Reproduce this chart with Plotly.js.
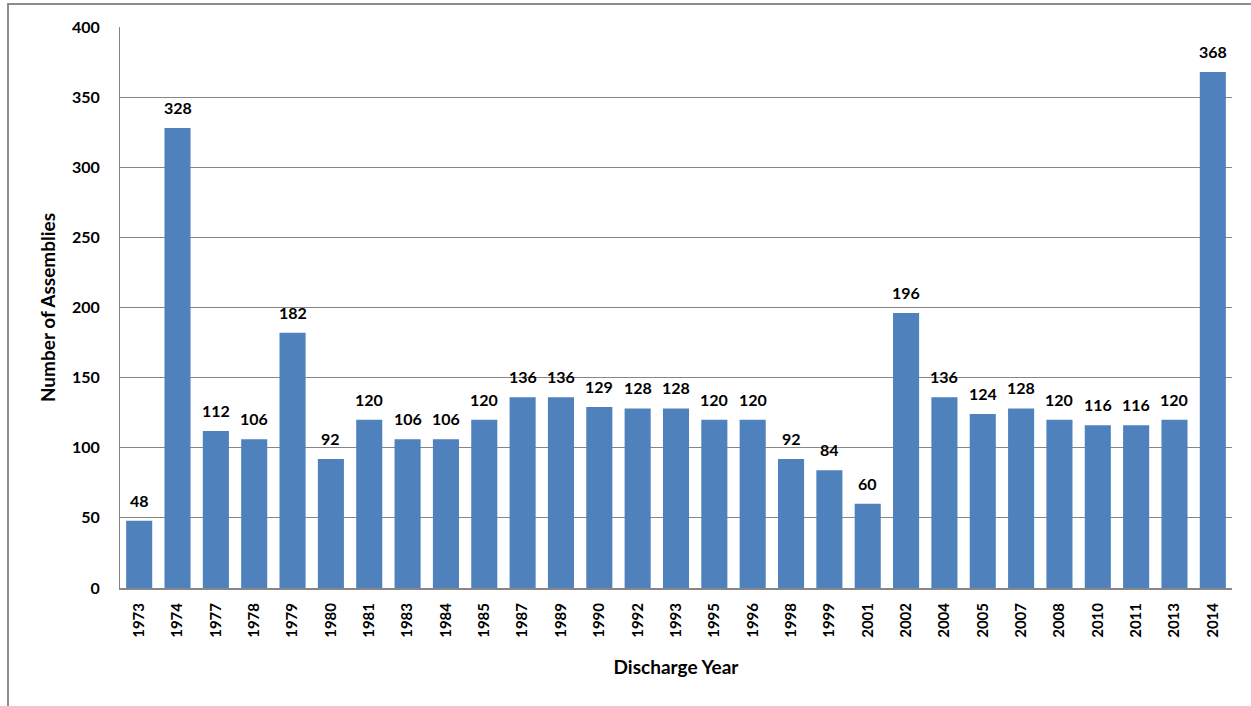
<!DOCTYPE html>
<html>
<head>
<meta charset="utf-8">
<script src="https://cdn.plot.ly/plotly-3.0.1.min.js"></script>
<style>
html,body{margin:0;padding:0;background:#fff;}
#frame{position:absolute;left:7px;top:3px;width:1260px;height:720px;border-left:2px solid #8c8c8c;border-top:2px solid #8c8c8c;box-sizing:border-box;}
#chart{position:absolute;left:0;top:0;width:1251px;height:706px;}
</style>
</head>
<body>
<div id="frame"></div>
<div id="chart"></div>
<script>
const years = ["1973","1974","1977","1978","1979","1980","1981","1983","1984","1985","1987","1989","1990","1992","1993","1995","1996","1998","1999","2001","2002","2004","2005","2007","2008","2010","2011","2013","2014"];
const assemblies = [48,328,112,106,182,92,120,106,106,120,136,136,129,128,128,120,120,92,84,60,196,136,124,128,120,116,116,120,368];
const yTicks = [0,50,100,150,200,250,300,350,400];

const fontFam = "Lato, 'Open Sans', sans-serif";
const trace = {
  type: 'bar',
  x: years,
  y: assemblies,
  marker: {color: '#4F81BD'},
  hoverinfo: 'x+y'
};
// category axis: position annotations by category index
const labels = years.map((yr, i) => ({
  x: i, y: assemblies[i], xref: 'x', yref: 'y',
  text: String(assemblies[i]), showarrow: false,
  yanchor: 'bottom', yshift: 9,
  font: {family: fontFam, size: 16, weight: 'bold', color: '#000'}
}));
const layout = {
  width: 1251, height: 706,
  margin: {l: 120, r: 19, t: 27, b: 118},
  paper_bgcolor: 'rgba(0,0,0,0)',
  plot_bgcolor: '#fff',
  bargap: 0.32,
  showlegend: false,
  font: {family: fontFam, color: '#000'},
  annotations: labels,
  xaxis: {
    type: 'category',
    categoryorder: 'array',
    categoryarray: years,
    tickangle: -90,
    tickfont: {family: fontFam, size: 15, weight: 'bold', color: '#000'},
    showline: true, linecolor: '#868686', linewidth: 2,
    ticks: '', ticklabelstandoff: 7,
    title: {text: 'Discharge Year', font: {family: fontFam, size: 19, weight: 'bold', color: '#000'}, standoff: 24}
  },
  yaxis: {
    range: [0, 400],
    tickvals: yTicks,
    ticktext: yTicks.map(String),
    tickfont: {family: fontFam, size: 16, weight: 'bold', color: '#000'},
    showline: true, linecolor: '#868686', linewidth: 1,
    gridcolor: '#868686', gridwidth: 1,
    zeroline: false,
    ticks: '', ticklabelstandoff: 16,
    title: {text: 'Number of Assemblies', font: {family: fontFam, size: 19, weight: 'bold', color: '#000'}, standoff: 11}
  }
};
Plotly.newPlot('chart', [trace], layout, {displayModeBar: false, staticPlot: true});
</script>
</body>
</html>
